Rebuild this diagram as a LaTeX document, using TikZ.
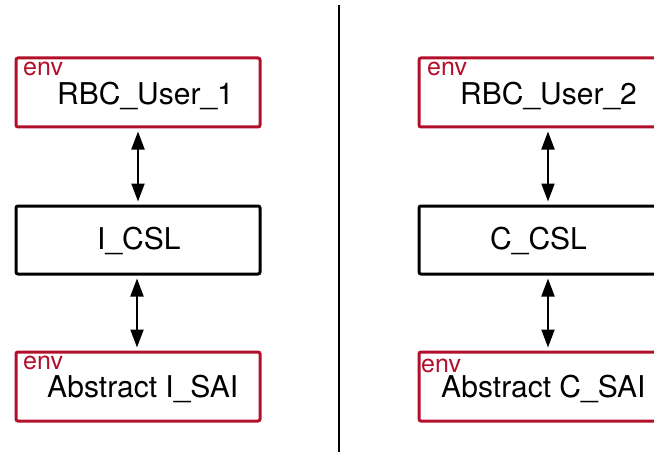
\documentclass[tikz,border=0pt]{standalone}
\usepackage{fontspec}
\setmainfont{TeX Gyre Heros}
\usetikzlibrary{arrows.meta}
\definecolor{envred}{RGB}{178,16,42}
\begin{document}
\begin{tikzpicture}[x=1pt,y=-1pt,
  box/.style={draw,line width=3pt,rounded corners=2pt,minimum width=244pt,inner sep=0pt,anchor=north west},
  envbox/.style={box,draw=envred,minimum height=69pt},
  cslbox/.style={box,draw=black,minimum height=68pt},
  envlbl/.style={text=envred,font=\fontsize{25}{25}\selectfont,anchor=base west,inner sep=0pt},
  mainlbl/.style={font=\fontsize{30}{30}\selectfont,anchor=base west,inner sep=0pt},
  dbl/.style={line width=2pt,shorten <=3pt,shorten >=3pt,{Triangle[length=18pt,width=13pt]}-{Triangle[length=18pt,width=13pt]}},
  divider/.style={line width=1.5pt}]
\useasboundingbox (0,0) rectangle (654,452);
% left column
\node[envbox] (u1) at (14.5,56.5) {};
\node[envlbl] (u1e) at (23,76) {env};
\node[mainlbl] (u1t) at (57,104) {RBC\_User\_1};
\node[cslbox] (c1) at (14.5,204.5) {};
\node[mainlbl] (c1t) at (97,249) {I\_CSL};
\node[envbox] (s1) at (14.5,350.5) {};
\node[envlbl] (s1e) at (23,369) {env};
\node[mainlbl] (s1t) at (47,397) {Abstract I\_SAI};
% right column
\node[envbox] (u2) at (417.5,56.5) {};
\node[envlbl] (u2e) at (427,76) {env};
\node[mainlbl] (u2t) at (460,104) {RBC\_User\_2};
\node[cslbox] (c2) at (417.5,204.5) {};
\node[mainlbl] (c2t) at (490,249) {C\_CSL};
\node[envbox] (s2) at (417.5,350.5) {};
\node[envlbl] (s2e) at (421,372) {env};
\node[mainlbl] (s2t) at (441,397) {Abstract C\_SAI};
% arrows
\coordinate (a1) at (138,0);
\coordinate (a2) at (137,0);
\coordinate (a3) at (548,0);
\coordinate (a4) at (548,0);
\draw[dbl] (u1.south -| a1) -- (c1.north -| a1);
\draw[dbl] (c1.south -| a2) -- (s1.north -| a2);
\draw[dbl] (u2.south -| a3) -- (c2.north -| a3);
\draw[dbl] (c2.south -| a4) -- (s2.north -| a4);
% divider
\coordinate (dtop) at (339,5);
\coordinate (dbot) at (339,452);
\draw[divider] (dtop) -- (dbot);
\end{tikzpicture}
\end{document}
